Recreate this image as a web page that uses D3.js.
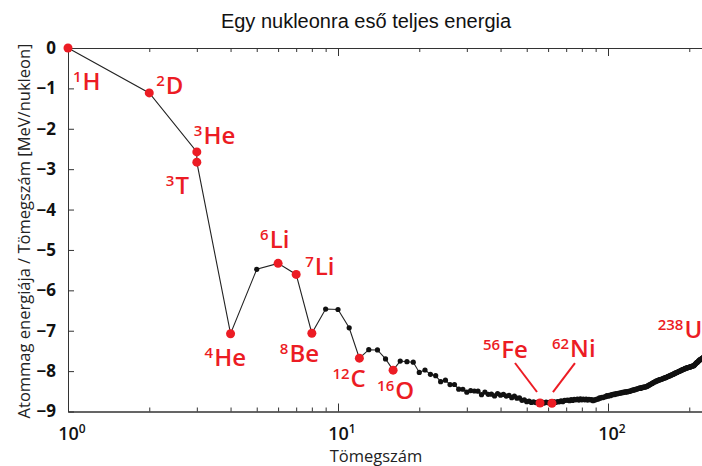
<!DOCTYPE html>
<html>
<head>
<meta charset="utf-8">
<script src="https://cdn.jsdelivr.net/npm/d3@7"></script>
<style>
  html, body { margin: 0; padding: 0; background: #fff; overflow: hidden; }
  svg { display: block; }
</style>
</head>
<body>
<div id="chart"></div>
<script>
// Mass numbers along the curve (A = 3 appears twice: 3He then 3T)
var massNumbers = [
  1, 2, 3, 3, 4, 5, 6, 7, 8, 9, 10,
  11, 12, 13, 14, 15, 16, 17, 18, 19, 20,
  21, 22, 23, 24, 25, 26, 27, 28, 29, 30,
  31, 32, 33, 34, 35, 36, 37, 38, 39, 40,
  41, 42, 43, 44, 45, 46, 47, 48, 49, 50,
  51, 52, 53, 54, 55, 56, 57, 58, 59, 60,
  61, 62, 63, 64, 65, 66, 67, 68, 69, 70,
  71, 72, 73, 74, 75, 76, 77, 78, 79, 80,
  81, 82, 83, 84, 85, 86, 87, 88, 89, 90,
  91, 92, 93, 94, 95, 96, 97, 98, 99, 100,
  101, 102, 103, 104, 105, 106, 107, 108, 109, 110,
  111, 112, 113, 114, 115, 116, 117, 118, 119, 120,
  121, 122, 123, 124, 125, 126, 127, 128, 129, 130,
  131, 132, 133, 134, 135, 136, 137, 138, 139, 140,
  141, 142, 143, 144, 145, 146, 147, 148, 149, 150,
  151, 152, 153, 154, 155, 156, 157, 158, 159, 160,
  161, 162, 163, 164, 165, 166, 167, 168, 169, 170,
  171, 172, 173, 174, 175, 176, 177, 178, 179, 180,
  181, 182, 183, 184, 185, 186, 187, 188, 189, 190,
  191, 192, 193, 194, 195, 196, 197, 198, 199, 200,
  201, 202, 203, 204, 205, 206, 207, 208, 209, 210,
  211, 212, 213, 214, 215, 216, 217, 218, 219, 220,
  221, 222, 223, 224, 225, 226, 227, 228, 229, 230,
  231, 232, 233, 234, 235, 236, 237, 238
];

// Energy per nucleon [MeV/nukleon], same order as massNumbers
var energies = [
  0, -1.112, -2.573, -2.827, -7.074, -5.48, -5.332, -5.606, -7.062, -6.463, -6.475,
  -6.928, -7.680, -7.470, -7.476, -7.699, -7.976, -7.751, -7.767, -7.779, -8.032,
  -7.972, -8.080, -8.112, -8.261, -8.224, -8.334, -8.332, -8.448, -8.449, -8.521,
  -8.481, -8.493, -8.498, -8.584, -8.520, -8.575, -8.570, -8.614, -8.557, -8.595,
  -8.576, -8.617, -8.601, -8.658, -8.619, -8.669, -8.661, -8.723, -8.711, -8.756,
  -8.742, -8.776, -8.760, -8.778, -8.765, -8.790, -8.770, -8.792, -8.768, -8.781,
  -8.765, -8.795, -8.752, -8.777, -8.757, -8.760, -8.734, -8.756, -8.725, -8.722,
  -8.718, -8.732, -8.705, -8.725, -8.701, -8.711, -8.695, -8.718, -8.688, -8.711,
  -8.696, -8.711, -8.696, -8.717, -8.697, -8.712, -8.705, -8.733, -8.714, -8.710,
  -8.693, -8.693, -8.664, -8.667, -8.649, -8.654, -8.635, -8.635, -8.609, -8.620,
  -8.601, -8.608, -8.584, -8.587, -8.571, -8.580, -8.554, -8.567, -8.548, -8.551,
  -8.537, -8.545, -8.527, -8.532, -8.514, -8.523, -8.510, -8.517, -8.499, -8.505,
  -8.488, -8.488, -8.472, -8.474, -8.458, -8.463, -8.446, -8.449, -8.431, -8.430,
  -8.416, -8.428, -8.410, -8.409, -8.398, -8.399, -8.392, -8.394, -8.378, -8.376,
  -8.355, -8.347, -8.331, -8.327, -8.309, -8.304, -8.285, -8.277, -8.263, -8.262,
  -8.244, -8.245, -8.229, -8.227, -8.213, -8.215, -8.204, -8.202, -8.189, -8.184,
  -8.173, -8.173, -8.162, -8.159, -8.147, -8.142, -8.132, -8.130, -8.115, -8.112,
  -8.098, -8.097, -8.087, -8.084, -8.069, -8.064, -8.052, -8.049, -8.039, -8.035,
  -8.023, -8.018, -8.007, -8.005, -7.991, -7.991, -7.978, -7.974, -7.963, -7.963,
  -7.948, -7.948, -7.934, -7.936, -7.923, -7.922, -7.916, -7.912, -7.905, -7.906,
  -7.897, -7.896, -7.887, -7.880, -7.875, -7.875, -7.870, -7.867, -7.848, -7.836,
  -7.819, -7.804, -7.791, -7.785, -7.768, -7.758, -7.741, -7.732, -7.715, -7.717,
  -7.700, -7.694, -7.685, -7.680, -7.667, -7.662, -7.651, -7.645, -7.635, -7.631,
  -7.618, -7.615, -7.604, -7.600, -7.591, -7.586, -7.576, -7.570
];

// Highlighted nuclei
var isoSymbols = ['H', 'D', 'He', 'T', 'He', 'Li', 'Li', 'Be', 'C', 'O', 'Fe', 'Ni', 'U'];
var isoMass = [1, 2, 3, 3, 4, 6, 7, 8, 12, 16, 56, 62, 238];
var isoEnergy = [0, -1.112, -2.573, -2.827, -7.074, -5.332, -5.606, -7.062, -7.680, -7.976, -8.790, -8.795, -7.570];

// Axis ticks
var yTicks = [0, -1, -2, -3, -4, -5, -6, -7, -8, -9];
var xMajor = [1, 10, 100];
var xMinor = [2, 3, 4, 5, 6, 7, 8, 9, 20, 30, 40, 50, 60, 70, 80, 90, 200];
var xMajorExp = ['0', '1', '2'];

// Label placement relative to the marker (layout only)
var labelOffsets = [[5, 42], [7, 1], [-3, -8], [-31, 32], [-26, 32], [-18, -15], [9, 1],
                    [-32, 29], [-27, 29], [-16, 29], [-57, -45], [0, -46], [-52, -16]];
// Leader lines for Fe and Ni: [index, x1, y1, x2, y2] relative to the marker
var leaders = [[10, -25, -40, -3, -11], [11, 23, -40, 1, -11]];

var width = 702, height = 466;
var red = '#ec1c24';
var axisColor = '#333';

var svg = d3.select('#chart').append('svg')
            .attr('width', width)
            .attr('height', height);

// Scales: one decade is ~270px, data runs off the right edge like the source
var x = d3.scaleLog()
          .domain([1, 238])
          .range([68, 68 + 270 * Math.log10(238)]);
var y = d3.scaleLinear()
          .domain([-9, 0])
          .range([411.5, 48]);

// Title
svg.append('text')
   .attr('x', 366)
   .attr('y', 28)
   .attr('text-anchor', 'middle')
   .style('font-family', '"Liberation Sans", Arial, sans-serif')
   .style('font-size', '20px')
   .style('fill', '#111')
   .text('Egy nukleonra eső teljes energia');

// Axis label texts
svg.append('text')
   .attr('x', 376)
   .attr('y', 462)
   .attr('text-anchor', 'middle')
   .style('font-family', '"Open Sans", sans-serif')
   .style('font-size', '16.5px')
   .style('fill', '#222')
   .text('Tömegszám');

svg.append('text')
   .attr('transform', 'translate(30,231) rotate(-90)')
   .attr('text-anchor', 'middle')
   .style('font-family', '"Open Sans", sans-serif')
   .style('font-size', '16.5px')
   .style('fill', '#222')
   .text('Atommag energiája / Tömegszám [MeV/nukleon]');

// Left axis
var yAxis = svg.append('g')
               .attr('transform', 'translate(68,0)')
               .call(d3.axisLeft(y).tickValues(yTicks).tickSizeInner(-6).tickSizeOuter(0).tickPadding(12));
yAxis.selectAll('text')
     .style('font-family', '"Open Sans", sans-serif')
     .style('font-weight', '700')
     .style('font-size', '17px')
     .style('fill', '#111');

// Bottom axis: minor then major ticks, pointing into the plot
svg.append('g')
   .attr('transform', 'translate(0,411.5)')
   .call(d3.axisBottom(x).tickValues(xMinor).tickSizeInner(-4).tickSizeOuter(0).tickFormat(''));
svg.append('g')
   .attr('transform', 'translate(0,411.5)')
   .call(d3.axisBottom(x).tickValues(xMajor).tickSizeInner(-8).tickSizeOuter(0).tickFormat(''));

// Top axis mirrors the bottom one
svg.append('g')
   .attr('transform', 'translate(0,48)')
   .call(d3.axisTop(x).tickValues(xMinor).tickSizeInner(-4).tickSizeOuter(0).tickFormat(''));
svg.append('g')
   .attr('transform', 'translate(0,48)')
   .call(d3.axisTop(x).tickValues(xMajor).tickSizeInner(-8).tickSizeOuter(0).tickFormat(''));

svg.selectAll('.domain, .tick line')
   .attr('stroke', axisColor)
   .attr('stroke-width', 1);

// Power-of-ten tick labels
var xLabels = svg.append('g').selectAll('text')
                 .data(xMajor)
                 .join('text')
                 .attr('x', function(d) { return x(d) + 4; })
                 .attr('y', 440)
                 .attr('text-anchor', 'middle')
                 .style('font-family', '"Open Sans", sans-serif')
                 .style('font-weight', '600')
                 .style('font-size', '18px')
                 .style('fill', '#111');
xLabels.append('tspan').text('10');
xLabels.append('tspan')
       .attr('dy', -7)
       .style('font-size', '12px')
       .text(function(d, i) { return xMajorExp[i]; });

// Curve through all nuclei
var points = massNumbers.map(function(a, i) { return [a, energies[i]]; });

svg.append('path')
   .datum(points)
   .attr('fill', 'none')
   .attr('stroke', '#222')
   .attr('stroke-width', 1.1)
   .attr('d', d3.line()
                .x(function(d) { return x(d[0]); })
                .y(function(d) { return y(d[1]); }));

svg.append('g').selectAll('circle')
   .data(points)
   .join('circle')
   .attr('cx', function(d) { return x(d[0]); })
   .attr('cy', function(d) { return y(d[1]); })
   .attr('r', 2.6)
   .attr('fill', '#111');

// Red highlighted nuclei
var iso = isoSymbols.map(function(s, i) {
  return {symbol: s, mass: isoMass[i], energy: isoEnergy[i], off: labelOffsets[i]};
});

leaders.forEach(function(l) {
  var d = iso[l[0]];
  svg.append('line')
     .attr('x1', x(d.mass) + l[1])
     .attr('y1', y(d.energy) + l[2])
     .attr('x2', x(d.mass) + l[3])
     .attr('y2', y(d.energy) + l[4])
     .attr('stroke', red)
     .attr('stroke-width', 2);
});

svg.append('g').selectAll('circle')
   .data(iso)
   .join('circle')
   .attr('cx', function(d) { return x(d.mass); })
   .attr('cy', function(d) { return y(d.energy); })
   .attr('r', 4.5)
   .attr('fill', red);

var isoLabels = svg.append('g').selectAll('text')
                   .data(iso)
                   .join('text')
                   .attr('x', function(d) { return x(d.mass) + d.off[0]; })
                   .attr('y', function(d) { return y(d.energy) + d.off[1]; })
                   .style('font-family', '"Open Sans", sans-serif')
                   .style('font-weight', '600')
                   .style('fill', red);
isoLabels.append('tspan')
         .attr('dy', -8)
         .style('font-size', '15px')
         .text(function(d) { return d.mass; });
isoLabels.append('tspan')
         .attr('dy', 8)
         .attr('dx', 1)
         .style('font-size', '24px')
         .text(function(d) { return d.symbol; });
</script>
</body>
</html>
